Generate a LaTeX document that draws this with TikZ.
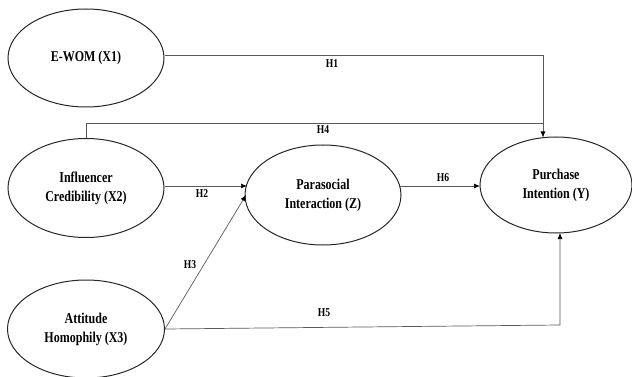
\documentclass[tikz,border=0pt]{standalone}
\usepackage{fontspec}
\setmainfont{Liberation Serif}
\newfontfamily\lblfont[FakeStretch=0.8]{Liberation Serif}
\usetikzlibrary{shapes.geometric,arrows.meta}
\begin{document}
\begin{tikzpicture}[x=1pt,y=-1pt,
  construct/.style={draw=black!85,line width=1pt,ellipse,minimum width=#1,inner sep=0pt,
    font=\lblfont\fontsize{15}{19}\selectfont\bfseries,align=center},
  conn/.style={draw=black!65,line width=0.7pt},
  arr/.style={conn,-{Latex[length=6pt,width=5pt,color=black]}},
  hlab/.style={font=\lblfont\fontsize{12}{14}\selectfont\bfseries,inner sep=0pt}]
\useasboundingbox (0,0) rectangle (632,377);
% constructs
\node[construct=156pt,minimum height=98pt] (ewom) at (86,58) {E-WOM (X1)};
\node[construct=156pt,minimum height=99pt] (ic) at (86,188) {Influencer\\Credibility (X2)};
\node[construct=157pt,minimum height=98pt] (ah) at (86,329) {Attitude\\Homophily (X3)};
\node[construct=156pt,minimum height=100pt] (pz) at (323,195) {Parasocial\\Interaction (Z)};
\node[construct=152pt,minimum height=96pt] (pi) at (556,185) {Purchase\\Intention (Y)};
% junction / end coordinates
\coordinate (h1top) at (543,55);
\coordinate (h1end) at (543,137.5);
\coordinate (h4end) at (543,123);
\coordinate (h2end) at (247,186);
\coordinate (h3end) at (246,195);
\coordinate (h5corner) at (560,325);
\coordinate (h5end) at (560,233);
\coordinate (h6end) at (480,186);
\coordinate (h6start) at (400,186);
% connectors
\draw[arr] (ewom.east |- h1top) -- (h1top) -- (h1end);
\draw[conn] (ic.north) |- (h4end);
\draw[arr] (ic.east |- h2end) -- (h2end);
\draw[arr] (ah.east) -- (h3end);
\draw[arr] (ah.east) -- (h5corner) -- (h5end);
\draw[arr] (h6start) -- (h6end);
% labels
\node[hlab] (l1) at (332,64) {H1};
\node[hlab] (l4) at (323,130) {H4};
\node[hlab] (l2) at (202,194) {H2};
\node[hlab] (l6) at (443,178) {H6};
\node[hlab] (l3) at (190,265) {H3};
\node[hlab] (l5) at (324,313) {H5};
\end{tikzpicture}
\end{document}
